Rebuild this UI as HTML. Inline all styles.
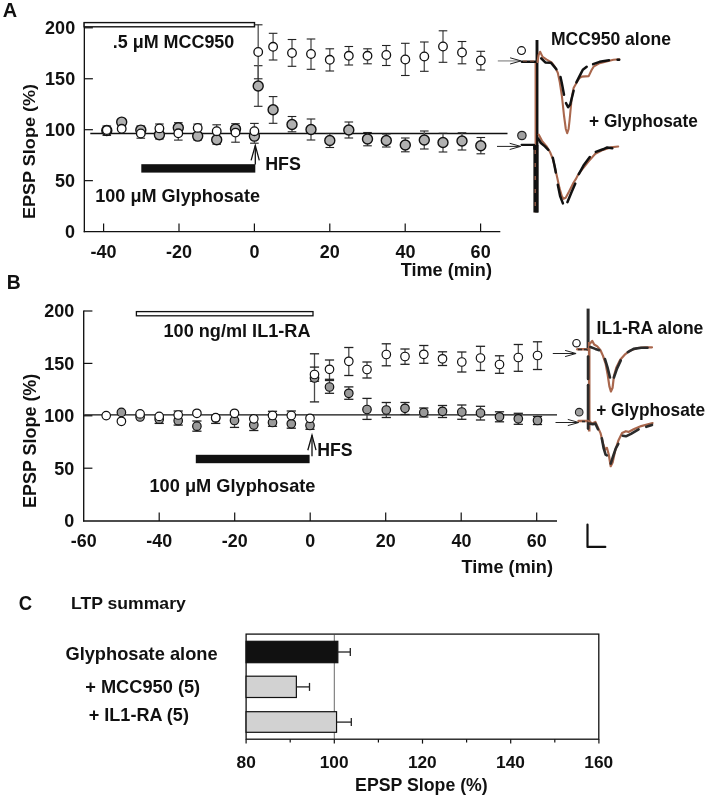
<!DOCTYPE html>
<html><head><meta charset="utf-8"><style>
html,body{margin:0;padding:0;background:#fff;}
svg{display:block;will-change:transform;font-family:"Liberation Sans", sans-serif;}
</style></head><body>
<svg width="708" height="798" viewBox="0 0 708 798">
<rect x="0" y="0" width="708" height="798" fill="#fff"/>
<text x="2.80" y="16.50" font-size="19.5" font-weight="bold" fill="#111" textLength="14.42" lengthAdjust="spacingAndGlyphs">A</text>
<line x1="84.35" y1="22.50" x2="84.35" y2="232.25" stroke="#111" stroke-width="1.35"/>
<line x1="83.70" y1="231.60" x2="500.30" y2="231.60" stroke="#111" stroke-width="1.35"/>
<text x="65.13" y="237.90" font-size="17.6" font-weight="bold" fill="#111" textLength="10.01" lengthAdjust="spacingAndGlyphs">0</text>
<line x1="84.30" y1="180.65" x2="92.90" y2="180.65" stroke="#111" stroke-width="1.2"/>
<text x="55.12" y="186.95" font-size="17.6" font-weight="bold" fill="#111" textLength="20.02" lengthAdjust="spacingAndGlyphs">50</text>
<line x1="84.30" y1="129.70" x2="92.90" y2="129.70" stroke="#111" stroke-width="1.2"/>
<text x="45.11" y="136.00" font-size="17.6" font-weight="bold" fill="#111" textLength="30.03" lengthAdjust="spacingAndGlyphs">100</text>
<line x1="84.30" y1="78.75" x2="92.90" y2="78.75" stroke="#111" stroke-width="1.2"/>
<text x="45.11" y="85.05" font-size="17.6" font-weight="bold" fill="#111" textLength="30.03" lengthAdjust="spacingAndGlyphs">150</text>
<line x1="84.30" y1="27.80" x2="92.90" y2="27.80" stroke="#111" stroke-width="1.2"/>
<text x="45.11" y="34.10" font-size="17.6" font-weight="bold" fill="#111" textLength="30.03" lengthAdjust="spacingAndGlyphs">200</text>
<line x1="103.60" y1="223.40" x2="103.60" y2="231.60" stroke="#111" stroke-width="1.2"/>
<text x="90.61" y="257.90" font-size="17.6" font-weight="bold" fill="#111" textLength="26.02" lengthAdjust="spacingAndGlyphs">-40</text>
<line x1="179.00" y1="223.40" x2="179.00" y2="231.60" stroke="#111" stroke-width="1.2"/>
<text x="166.01" y="257.90" font-size="17.6" font-weight="bold" fill="#111" textLength="26.02" lengthAdjust="spacingAndGlyphs">-20</text>
<line x1="254.40" y1="223.40" x2="254.40" y2="231.60" stroke="#111" stroke-width="1.2"/>
<text x="249.41" y="257.90" font-size="17.6" font-weight="bold" fill="#111" textLength="10.01" lengthAdjust="spacingAndGlyphs">0</text>
<line x1="329.80" y1="223.40" x2="329.80" y2="231.60" stroke="#111" stroke-width="1.2"/>
<text x="319.85" y="257.90" font-size="17.6" font-weight="bold" fill="#111" textLength="20.02" lengthAdjust="spacingAndGlyphs">20</text>
<line x1="405.20" y1="223.40" x2="405.20" y2="231.60" stroke="#111" stroke-width="1.2"/>
<text x="395.42" y="257.90" font-size="17.6" font-weight="bold" fill="#111" textLength="20.02" lengthAdjust="spacingAndGlyphs">40</text>
<line x1="480.60" y1="223.40" x2="480.60" y2="231.60" stroke="#111" stroke-width="1.2"/>
<text x="470.63" y="257.90" font-size="17.6" font-weight="bold" fill="#111" textLength="20.02" lengthAdjust="spacingAndGlyphs">60</text>
<text x="400.70" y="275.55" font-size="17.68" font-weight="bold" fill="#111" textLength="91.30" lengthAdjust="spacingAndGlyphs">Time (min)</text>
<text transform="translate(34.75,219.11) rotate(-90)" x="0" y="0" font-size="17.26" font-weight="bold" fill="#111" textLength="135.20" lengthAdjust="spacingAndGlyphs">EPSP Slope (%)</text>
<rect x="84.10" y="22.60" width="170.40" height="4.20" fill="#fff" stroke="#111" stroke-width="1.4"/>
<text x="112.78" y="47.75" font-size="17.47" font-weight="bold" fill="#111" textLength="121.55" lengthAdjust="spacingAndGlyphs">.5 μM MCC950</text>
<rect x="141.30" y="164.20" width="114.00" height="8.40" fill="#111"/>
<text x="95.26" y="201.95" font-size="17.47" font-weight="bold" fill="#111" textLength="164.76" lengthAdjust="spacingAndGlyphs">100 μM Glyphosate</text>
<line x1="255.30" y1="145.40" x2="255.30" y2="164.50" stroke="#111" stroke-width="1.3"/>
<path d="M251.1,160.4 L255.3,145.4 L259.3,160.4" fill="none" stroke="#111" stroke-width="1.3"/>
<text x="265.21" y="170.35" font-size="17.68" font-weight="bold" fill="#111" textLength="35.69" lengthAdjust="spacingAndGlyphs">HFS</text>
<line x1="90.30" y1="133.40" x2="507.50" y2="133.40" stroke="#111" stroke-width="1.45"/>
<line x1="106.80" y1="126.00" x2="106.80" y2="135.40" stroke="#5c5c5c" stroke-width="1.4"/>
<line x1="102.50" y1="126.00" x2="111.10" y2="126.00" stroke="#222" stroke-width="1.1"/>
<line x1="102.50" y1="135.40" x2="111.10" y2="135.40" stroke="#222" stroke-width="1.1"/>
<line x1="140.80" y1="126.00" x2="140.80" y2="138.20" stroke="#5c5c5c" stroke-width="1.4"/>
<line x1="136.50" y1="126.00" x2="145.10" y2="126.00" stroke="#222" stroke-width="1.1"/>
<line x1="136.50" y1="138.20" x2="145.10" y2="138.20" stroke="#222" stroke-width="1.1"/>
<line x1="159.40" y1="124.00" x2="159.40" y2="139.00" stroke="#5c5c5c" stroke-width="1.4"/>
<line x1="155.10" y1="124.00" x2="163.70" y2="124.00" stroke="#222" stroke-width="1.1"/>
<line x1="155.10" y1="139.00" x2="163.70" y2="139.00" stroke="#222" stroke-width="1.1"/>
<line x1="178.30" y1="122.70" x2="178.30" y2="140.10" stroke="#5c5c5c" stroke-width="1.4"/>
<line x1="174.00" y1="122.70" x2="182.60" y2="122.70" stroke="#222" stroke-width="1.1"/>
<line x1="174.00" y1="140.10" x2="182.60" y2="140.10" stroke="#222" stroke-width="1.1"/>
<line x1="197.70" y1="124.10" x2="197.70" y2="139.90" stroke="#5c5c5c" stroke-width="1.4"/>
<line x1="193.40" y1="124.10" x2="202.00" y2="124.10" stroke="#222" stroke-width="1.1"/>
<line x1="193.40" y1="139.90" x2="202.00" y2="139.90" stroke="#222" stroke-width="1.1"/>
<line x1="216.70" y1="124.80" x2="216.70" y2="144.20" stroke="#5c5c5c" stroke-width="1.4"/>
<line x1="212.40" y1="124.80" x2="221.00" y2="124.80" stroke="#222" stroke-width="1.1"/>
<line x1="212.40" y1="144.20" x2="221.00" y2="144.20" stroke="#222" stroke-width="1.1"/>
<line x1="235.50" y1="123.70" x2="235.50" y2="142.20" stroke="#5c5c5c" stroke-width="1.4"/>
<line x1="231.20" y1="123.70" x2="239.80" y2="123.70" stroke="#222" stroke-width="1.1"/>
<line x1="231.20" y1="142.20" x2="239.80" y2="142.20" stroke="#222" stroke-width="1.1"/>
<line x1="254.40" y1="123.40" x2="254.40" y2="143.20" stroke="#5c5c5c" stroke-width="1.4"/>
<line x1="250.10" y1="123.40" x2="258.70" y2="123.40" stroke="#222" stroke-width="1.1"/>
<line x1="250.10" y1="143.20" x2="258.70" y2="143.20" stroke="#222" stroke-width="1.1"/>
<line x1="258.20" y1="65.70" x2="258.20" y2="106.30" stroke="#5c5c5c" stroke-width="1.4"/>
<line x1="253.90" y1="65.70" x2="262.50" y2="65.70" stroke="#222" stroke-width="1.1"/>
<line x1="253.90" y1="106.30" x2="262.50" y2="106.30" stroke="#222" stroke-width="1.1"/>
<line x1="258.20" y1="24.80" x2="258.20" y2="78.80" stroke="#5c5c5c" stroke-width="1.4"/>
<line x1="253.90" y1="24.80" x2="262.50" y2="24.80" stroke="#222" stroke-width="1.1"/>
<line x1="253.90" y1="78.80" x2="262.50" y2="78.80" stroke="#222" stroke-width="1.1"/>
<line x1="273.10" y1="96.60" x2="273.10" y2="123.30" stroke="#5c5c5c" stroke-width="1.4"/>
<line x1="268.80" y1="96.60" x2="277.40" y2="96.60" stroke="#222" stroke-width="1.1"/>
<line x1="268.80" y1="123.30" x2="277.40" y2="123.30" stroke="#222" stroke-width="1.1"/>
<line x1="273.10" y1="33.30" x2="273.10" y2="60.00" stroke="#5c5c5c" stroke-width="1.4"/>
<line x1="268.80" y1="33.30" x2="277.40" y2="33.30" stroke="#222" stroke-width="1.1"/>
<line x1="268.80" y1="60.00" x2="277.40" y2="60.00" stroke="#222" stroke-width="1.1"/>
<line x1="292.00" y1="116.50" x2="292.00" y2="131.80" stroke="#5c5c5c" stroke-width="1.4"/>
<line x1="287.70" y1="116.50" x2="296.30" y2="116.50" stroke="#222" stroke-width="1.1"/>
<line x1="287.70" y1="131.80" x2="296.30" y2="131.80" stroke="#222" stroke-width="1.1"/>
<line x1="292.00" y1="39.50" x2="292.00" y2="66.30" stroke="#5c5c5c" stroke-width="1.4"/>
<line x1="287.70" y1="39.50" x2="296.30" y2="39.50" stroke="#222" stroke-width="1.1"/>
<line x1="287.70" y1="66.30" x2="296.30" y2="66.30" stroke="#222" stroke-width="1.1"/>
<line x1="311.00" y1="119.00" x2="311.00" y2="140.00" stroke="#5c5c5c" stroke-width="1.4"/>
<line x1="306.70" y1="119.00" x2="315.30" y2="119.00" stroke="#222" stroke-width="1.1"/>
<line x1="306.70" y1="140.00" x2="315.30" y2="140.00" stroke="#222" stroke-width="1.1"/>
<line x1="311.00" y1="39.00" x2="311.00" y2="69.30" stroke="#5c5c5c" stroke-width="1.4"/>
<line x1="306.70" y1="39.00" x2="315.30" y2="39.00" stroke="#222" stroke-width="1.1"/>
<line x1="306.70" y1="69.30" x2="315.30" y2="69.30" stroke="#222" stroke-width="1.1"/>
<line x1="329.80" y1="133.50" x2="329.80" y2="147.50" stroke="#5c5c5c" stroke-width="1.4"/>
<line x1="325.50" y1="133.50" x2="334.10" y2="133.50" stroke="#222" stroke-width="1.1"/>
<line x1="325.50" y1="147.50" x2="334.10" y2="147.50" stroke="#222" stroke-width="1.1"/>
<line x1="329.80" y1="48.80" x2="329.80" y2="71.00" stroke="#5c5c5c" stroke-width="1.4"/>
<line x1="325.50" y1="48.80" x2="334.10" y2="48.80" stroke="#222" stroke-width="1.1"/>
<line x1="325.50" y1="71.00" x2="334.10" y2="71.00" stroke="#222" stroke-width="1.1"/>
<line x1="348.80" y1="122.00" x2="348.80" y2="138.00" stroke="#5c5c5c" stroke-width="1.4"/>
<line x1="344.50" y1="122.00" x2="353.10" y2="122.00" stroke="#222" stroke-width="1.1"/>
<line x1="344.50" y1="138.00" x2="353.10" y2="138.00" stroke="#222" stroke-width="1.1"/>
<line x1="348.80" y1="46.50" x2="348.80" y2="65.00" stroke="#5c5c5c" stroke-width="1.4"/>
<line x1="344.50" y1="46.50" x2="353.10" y2="46.50" stroke="#222" stroke-width="1.1"/>
<line x1="344.50" y1="65.00" x2="353.10" y2="65.00" stroke="#222" stroke-width="1.1"/>
<line x1="367.50" y1="132.50" x2="367.50" y2="145.80" stroke="#5c5c5c" stroke-width="1.4"/>
<line x1="363.20" y1="132.50" x2="371.80" y2="132.50" stroke="#222" stroke-width="1.1"/>
<line x1="363.20" y1="145.80" x2="371.80" y2="145.80" stroke="#222" stroke-width="1.1"/>
<line x1="367.50" y1="48.80" x2="367.50" y2="63.80" stroke="#5c5c5c" stroke-width="1.4"/>
<line x1="363.20" y1="48.80" x2="371.80" y2="48.80" stroke="#222" stroke-width="1.1"/>
<line x1="363.20" y1="63.80" x2="371.80" y2="63.80" stroke="#222" stroke-width="1.1"/>
<line x1="386.30" y1="134.00" x2="386.30" y2="147.00" stroke="#5c5c5c" stroke-width="1.4"/>
<line x1="382.00" y1="134.00" x2="390.60" y2="134.00" stroke="#222" stroke-width="1.1"/>
<line x1="382.00" y1="147.00" x2="390.60" y2="147.00" stroke="#222" stroke-width="1.1"/>
<line x1="386.30" y1="45.50" x2="386.30" y2="65.50" stroke="#5c5c5c" stroke-width="1.4"/>
<line x1="382.00" y1="45.50" x2="390.60" y2="45.50" stroke="#222" stroke-width="1.1"/>
<line x1="382.00" y1="65.50" x2="390.60" y2="65.50" stroke="#222" stroke-width="1.1"/>
<line x1="405.30" y1="138.00" x2="405.30" y2="151.80" stroke="#5c5c5c" stroke-width="1.4"/>
<line x1="401.00" y1="138.00" x2="409.60" y2="138.00" stroke="#222" stroke-width="1.1"/>
<line x1="401.00" y1="151.80" x2="409.60" y2="151.80" stroke="#222" stroke-width="1.1"/>
<line x1="405.30" y1="43.30" x2="405.30" y2="75.50" stroke="#5c5c5c" stroke-width="1.4"/>
<line x1="401.00" y1="43.30" x2="409.60" y2="43.30" stroke="#222" stroke-width="1.1"/>
<line x1="401.00" y1="75.50" x2="409.60" y2="75.50" stroke="#222" stroke-width="1.1"/>
<line x1="424.30" y1="131.00" x2="424.30" y2="149.00" stroke="#5c5c5c" stroke-width="1.4"/>
<line x1="420.00" y1="131.00" x2="428.60" y2="131.00" stroke="#222" stroke-width="1.1"/>
<line x1="420.00" y1="149.00" x2="428.60" y2="149.00" stroke="#222" stroke-width="1.1"/>
<line x1="424.30" y1="42.00" x2="424.30" y2="71.30" stroke="#5c5c5c" stroke-width="1.4"/>
<line x1="420.00" y1="42.00" x2="428.60" y2="42.00" stroke="#222" stroke-width="1.1"/>
<line x1="420.00" y1="71.30" x2="428.60" y2="71.30" stroke="#222" stroke-width="1.1"/>
<line x1="443.00" y1="133.30" x2="443.00" y2="152.00" stroke="#5c5c5c" stroke-width="1.4"/>
<line x1="438.70" y1="133.30" x2="447.30" y2="133.30" stroke="#222" stroke-width="1.1"/>
<line x1="438.70" y1="152.00" x2="447.30" y2="152.00" stroke="#222" stroke-width="1.1"/>
<line x1="443.00" y1="30.80" x2="443.00" y2="62.30" stroke="#5c5c5c" stroke-width="1.4"/>
<line x1="438.70" y1="30.80" x2="447.30" y2="30.80" stroke="#222" stroke-width="1.1"/>
<line x1="438.70" y1="62.30" x2="447.30" y2="62.30" stroke="#222" stroke-width="1.1"/>
<line x1="462.00" y1="132.80" x2="462.00" y2="150.00" stroke="#5c5c5c" stroke-width="1.4"/>
<line x1="457.70" y1="132.80" x2="466.30" y2="132.80" stroke="#222" stroke-width="1.1"/>
<line x1="457.70" y1="150.00" x2="466.30" y2="150.00" stroke="#222" stroke-width="1.1"/>
<line x1="462.00" y1="41.50" x2="462.00" y2="63.80" stroke="#5c5c5c" stroke-width="1.4"/>
<line x1="457.70" y1="41.50" x2="466.30" y2="41.50" stroke="#222" stroke-width="1.1"/>
<line x1="457.70" y1="63.80" x2="466.30" y2="63.80" stroke="#222" stroke-width="1.1"/>
<line x1="480.80" y1="137.50" x2="480.80" y2="153.80" stroke="#5c5c5c" stroke-width="1.4"/>
<line x1="476.50" y1="137.50" x2="485.10" y2="137.50" stroke="#222" stroke-width="1.1"/>
<line x1="476.50" y1="153.80" x2="485.10" y2="153.80" stroke="#222" stroke-width="1.1"/>
<line x1="480.80" y1="51.30" x2="480.80" y2="70.00" stroke="#5c5c5c" stroke-width="1.4"/>
<line x1="476.50" y1="51.30" x2="485.10" y2="51.30" stroke="#222" stroke-width="1.1"/>
<line x1="476.50" y1="70.00" x2="485.10" y2="70.00" stroke="#222" stroke-width="1.1"/>
<circle cx="106.80" cy="130.50" r="5.00" fill="#b0b0b0" stroke="#111" stroke-width="1.4"/>
<circle cx="106.80" cy="130.10" r="4.30" fill="#fff" stroke="#111" stroke-width="1.3"/>
<circle cx="121.70" cy="122.10" r="5.00" fill="#b0b0b0" stroke="#111" stroke-width="1.4"/>
<circle cx="121.70" cy="128.80" r="4.30" fill="#fff" stroke="#111" stroke-width="1.3"/>
<circle cx="140.80" cy="130.10" r="5.00" fill="#b0b0b0" stroke="#111" stroke-width="1.4"/>
<circle cx="140.80" cy="133.50" r="4.30" fill="#fff" stroke="#111" stroke-width="1.3"/>
<circle cx="159.40" cy="134.80" r="5.00" fill="#b0b0b0" stroke="#111" stroke-width="1.4"/>
<circle cx="159.40" cy="128.40" r="4.30" fill="#fff" stroke="#111" stroke-width="1.3"/>
<circle cx="178.30" cy="127.70" r="5.00" fill="#b0b0b0" stroke="#111" stroke-width="1.4"/>
<circle cx="178.30" cy="133.30" r="4.30" fill="#fff" stroke="#111" stroke-width="1.3"/>
<circle cx="197.70" cy="136.10" r="5.00" fill="#b0b0b0" stroke="#111" stroke-width="1.4"/>
<circle cx="197.70" cy="127.90" r="4.30" fill="#fff" stroke="#111" stroke-width="1.3"/>
<circle cx="216.70" cy="139.70" r="5.00" fill="#b0b0b0" stroke="#111" stroke-width="1.4"/>
<circle cx="216.70" cy="131.20" r="4.30" fill="#fff" stroke="#111" stroke-width="1.3"/>
<circle cx="235.50" cy="129.10" r="5.00" fill="#b0b0b0" stroke="#111" stroke-width="1.4"/>
<circle cx="235.50" cy="132.60" r="4.30" fill="#fff" stroke="#111" stroke-width="1.3"/>
<circle cx="254.40" cy="136.10" r="5.00" fill="#b0b0b0" stroke="#111" stroke-width="1.4"/>
<circle cx="254.40" cy="131.20" r="4.30" fill="#fff" stroke="#111" stroke-width="1.3"/>
<circle cx="258.20" cy="86.00" r="5.00" fill="#b0b0b0" stroke="#111" stroke-width="1.4"/>
<circle cx="258.20" cy="52.00" r="4.30" fill="#fff" stroke="#111" stroke-width="1.3"/>
<circle cx="273.10" cy="109.80" r="5.00" fill="#b0b0b0" stroke="#111" stroke-width="1.4"/>
<circle cx="273.10" cy="46.80" r="4.30" fill="#fff" stroke="#111" stroke-width="1.3"/>
<circle cx="292.00" cy="124.50" r="5.00" fill="#b0b0b0" stroke="#111" stroke-width="1.4"/>
<circle cx="292.00" cy="53.00" r="4.30" fill="#fff" stroke="#111" stroke-width="1.3"/>
<circle cx="311.00" cy="129.50" r="5.00" fill="#b0b0b0" stroke="#111" stroke-width="1.4"/>
<circle cx="311.00" cy="54.00" r="4.30" fill="#fff" stroke="#111" stroke-width="1.3"/>
<circle cx="329.80" cy="140.50" r="5.00" fill="#b0b0b0" stroke="#111" stroke-width="1.4"/>
<circle cx="329.80" cy="59.80" r="4.30" fill="#fff" stroke="#111" stroke-width="1.3"/>
<circle cx="348.80" cy="130.00" r="5.00" fill="#b0b0b0" stroke="#111" stroke-width="1.4"/>
<circle cx="348.80" cy="55.80" r="4.30" fill="#fff" stroke="#111" stroke-width="1.3"/>
<circle cx="367.50" cy="139.00" r="5.00" fill="#b0b0b0" stroke="#111" stroke-width="1.4"/>
<circle cx="367.50" cy="55.80" r="4.30" fill="#fff" stroke="#111" stroke-width="1.3"/>
<circle cx="386.30" cy="140.50" r="5.00" fill="#b0b0b0" stroke="#111" stroke-width="1.4"/>
<circle cx="386.30" cy="55.00" r="4.30" fill="#fff" stroke="#111" stroke-width="1.3"/>
<circle cx="405.30" cy="145.00" r="5.00" fill="#b0b0b0" stroke="#111" stroke-width="1.4"/>
<circle cx="405.30" cy="59.50" r="4.30" fill="#fff" stroke="#111" stroke-width="1.3"/>
<circle cx="424.30" cy="140.00" r="5.00" fill="#b0b0b0" stroke="#111" stroke-width="1.4"/>
<circle cx="424.30" cy="56.50" r="4.30" fill="#fff" stroke="#111" stroke-width="1.3"/>
<circle cx="443.00" cy="142.50" r="5.00" fill="#b0b0b0" stroke="#111" stroke-width="1.4"/>
<circle cx="443.00" cy="46.50" r="4.30" fill="#fff" stroke="#111" stroke-width="1.3"/>
<circle cx="462.00" cy="141.00" r="5.00" fill="#b0b0b0" stroke="#111" stroke-width="1.4"/>
<circle cx="462.00" cy="52.50" r="4.30" fill="#fff" stroke="#111" stroke-width="1.3"/>
<circle cx="480.80" cy="145.80" r="5.00" fill="#b0b0b0" stroke="#111" stroke-width="1.4"/>
<circle cx="480.80" cy="60.50" r="4.30" fill="#fff" stroke="#111" stroke-width="1.3"/>
<circle cx="521.50" cy="50.60" r="3.90" fill="#fff" stroke="#111" stroke-width="1.2"/>
<circle cx="521.90" cy="135.50" r="4.20" fill="#a0a0a0" stroke="#222" stroke-width="1.2"/>
<line x1="497.80" y1="60.90" x2="520.10" y2="60.90" stroke="#9a9a9a" stroke-width="1.4"/>
<path d="M510.1,57.8 L521.1,60.9 L510.1,64.0" fill="none" stroke="#222" stroke-width="1"/>
<line x1="497.00" y1="146.40" x2="519.70" y2="146.40" stroke="#222" stroke-width="1.0"/>
<path d="M509.7,143.3 L520.7,146.4 L509.7,149.5" fill="none" stroke="#222" stroke-width="1"/>
<line x1="537.00" y1="40.00" x2="537.00" y2="212.50" stroke="#111" stroke-width="2.9"/>
<line x1="535.30" y1="61.00" x2="535.30" y2="212.50" stroke="#a9674d" stroke-width="1.5"/>
<rect x="533.40" y="145.00" width="5.00" height="67.50" fill="#111"/>
<line x1="535.2" y1="150" x2="535.2" y2="211" stroke="#a9674d" stroke-width="1.2" stroke-dasharray="4,9"/>
<path d="M521.9,61.8 L535.7,61.8" fill="none" stroke="#111" stroke-width="2.4" stroke-linejoin="round" stroke-linecap="round"/>
<line x1="523" y1="61.0" x2="535" y2="61.0" stroke="#a9674d" stroke-width="0.9" stroke-dasharray="4,3"/>
<path d="M537.5,62.0 L538.6,55.0 L540.1,51.8 L542.6,56.9 L546.7,59.7 L551.6,62.4 L555.0,67.2 L557.8,72.8 L559.8,82.4 L561.9,96.2 L564.0,115.5 L565.8,129.0 L567.2,133.2 L568.6,129.0 L569.6,120.0 L571.6,99.0 L573.6,87.9 L577.1,81.7 L579.5,78.0 L581.8,76.6 L588.7,76.1 L591.6,70.0 L593.6,66.7 L599.6,63.2 L607.5,61.3 L613.4,59.8 L619.3,59.3" fill="none" stroke="#a9674d" stroke-width="2.1" stroke-linejoin="round" stroke-linecap="round"/>
<path d="M541.2,58.3 L545.3,62.4 L550.9,62.7 L553.6,65.9 L556.4,69.3" fill="none" stroke="#111" stroke-width="2.5" stroke-linejoin="round" stroke-linecap="round"/>
<path d="M560.5,76.9 L562.0,84.0 L564.0,94.8" fill="none" stroke="#111" stroke-width="2.5" stroke-linejoin="round" stroke-linecap="round"/>
<path d="M566.0,103.1 L568.1,107.2 L570.2,104.5 L573.6,90.7" fill="none" stroke="#111" stroke-width="2.5" stroke-linejoin="round" stroke-linecap="round"/>
<path d="M576.4,82.4 L579.8,75.6 L582.8,69.7 L586.7,66.7" fill="none" stroke="#111" stroke-width="2.5" stroke-linejoin="round" stroke-linecap="round"/>
<path d="M593.1,64.2 L599.6,61.8 L609.0,60.3" fill="none" stroke="#111" stroke-width="2.5" stroke-linejoin="round" stroke-linecap="round"/>
<path d="M617.6,59.8 L619.2,59.8" fill="none" stroke="#111" stroke-width="2.5" stroke-linejoin="round" stroke-linecap="round"/>
<path d="M521.6,144.8 L534.2,144.8 L534.3,149.0" fill="none" stroke="#111" stroke-width="2.2" stroke-linejoin="round" stroke-linecap="round"/>
<path d="M538.7,134.6 L542.0,140.8 L546.6,146.4 L550.0,152.0 L552.8,158.8 L555.0,167.8 L557.3,178.0 L559.5,188.1 L561.8,196.0 L563.5,198.8 L565.7,197.7 L569.1,191.5 L573.6,182.5 L575.8,179.2 L578.1,174.6 L581.8,169.8 L588.6,161.4 L595.3,153.7 L603.0,149.9 L610.6,147.4 L618.2,146.5" fill="none" stroke="#a9674d" stroke-width="2.1" stroke-linejoin="round" stroke-linecap="round"/>
<path d="M538.1,138.5 L540.9,143.0 L544.9,146.4 L548.3,149.8" fill="none" stroke="#111" stroke-width="2.5" stroke-linejoin="round" stroke-linecap="round"/>
<path d="M552.8,157.7 L554.5,165.6 L555.8,172.4" fill="none" stroke="#111" stroke-width="2.5" stroke-linejoin="round" stroke-linecap="round"/>
<path d="M557.8,184.8 L560.1,196.0 L562.9,203.4" fill="none" stroke="#111" stroke-width="2.5" stroke-linejoin="round" stroke-linecap="round"/>
<path d="M567.4,202.2 L571.4,192.6 L575.3,183.6" fill="none" stroke="#111" stroke-width="2.5" stroke-linejoin="round" stroke-linecap="round"/>
<path d="M578.8,174.1 L583.5,165.6 L589.8,157.0" fill="none" stroke="#111" stroke-width="2.5" stroke-linejoin="round" stroke-linecap="round"/>
<path d="M595.8,151.9 L603.0,149.3 L607.2,147.4 L612.3,148.2" fill="none" stroke="#111" stroke-width="2.5" stroke-linejoin="round" stroke-linecap="round"/>
<text x="550.92" y="45.35" font-size="17.47" font-weight="bold" fill="#111" textLength="120.08" lengthAdjust="spacingAndGlyphs">MCC950 alone</text>
<text x="589.08" y="126.95" font-size="17.47" font-weight="bold" fill="#111" textLength="108.71" lengthAdjust="spacingAndGlyphs">+ Glyphosate</text>
<text x="6.81" y="289.10" font-size="19.5" font-weight="bold" fill="#111" textLength="13.97" lengthAdjust="spacingAndGlyphs">B</text>
<line x1="83.70" y1="310.40" x2="83.70" y2="521.60" stroke="#111" stroke-width="1.35"/>
<line x1="83.05" y1="520.95" x2="557.00" y2="520.95" stroke="#111" stroke-width="1.35"/>
<text x="64.23" y="526.90" font-size="17.6" font-weight="bold" fill="#111" textLength="10.01" lengthAdjust="spacingAndGlyphs">0</text>
<line x1="83.80" y1="468.20" x2="92.40" y2="468.20" stroke="#111" stroke-width="1.2"/>
<text x="54.22" y="474.50" font-size="17.6" font-weight="bold" fill="#111" textLength="20.02" lengthAdjust="spacingAndGlyphs">50</text>
<line x1="83.80" y1="415.80" x2="92.40" y2="415.80" stroke="#111" stroke-width="1.2"/>
<text x="44.21" y="422.10" font-size="17.6" font-weight="bold" fill="#111" textLength="30.03" lengthAdjust="spacingAndGlyphs">100</text>
<line x1="83.80" y1="363.40" x2="92.40" y2="363.40" stroke="#111" stroke-width="1.2"/>
<text x="44.21" y="369.70" font-size="17.6" font-weight="bold" fill="#111" textLength="30.03" lengthAdjust="spacingAndGlyphs">150</text>
<line x1="83.80" y1="311.00" x2="92.40" y2="311.00" stroke="#111" stroke-width="1.2"/>
<text x="44.21" y="317.30" font-size="17.6" font-weight="bold" fill="#111" textLength="30.03" lengthAdjust="spacingAndGlyphs">200</text>
<text x="70.78" y="546.80" font-size="17.6" font-weight="bold" fill="#111" textLength="25.87" lengthAdjust="spacingAndGlyphs">-60</text>
<line x1="159.20" y1="512.60" x2="159.20" y2="520.90" stroke="#111" stroke-width="1.2"/>
<text x="146.28" y="546.80" font-size="17.6" font-weight="bold" fill="#111" textLength="25.87" lengthAdjust="spacingAndGlyphs">-40</text>
<line x1="234.70" y1="512.60" x2="234.70" y2="520.90" stroke="#111" stroke-width="1.2"/>
<text x="221.78" y="546.80" font-size="17.6" font-weight="bold" fill="#111" textLength="25.87" lengthAdjust="spacingAndGlyphs">-20</text>
<line x1="310.20" y1="512.60" x2="310.20" y2="520.90" stroke="#111" stroke-width="1.2"/>
<text x="305.24" y="546.80" font-size="17.6" font-weight="bold" fill="#111" textLength="9.96" lengthAdjust="spacingAndGlyphs">0</text>
<line x1="385.70" y1="512.60" x2="385.70" y2="520.90" stroke="#111" stroke-width="1.2"/>
<text x="375.80" y="546.80" font-size="17.6" font-weight="bold" fill="#111" textLength="19.91" lengthAdjust="spacingAndGlyphs">20</text>
<line x1="461.20" y1="512.60" x2="461.20" y2="520.90" stroke="#111" stroke-width="1.2"/>
<text x="451.48" y="546.80" font-size="17.6" font-weight="bold" fill="#111" textLength="19.91" lengthAdjust="spacingAndGlyphs">40</text>
<line x1="536.70" y1="512.60" x2="536.70" y2="520.90" stroke="#111" stroke-width="1.2"/>
<text x="526.78" y="546.80" font-size="17.6" font-weight="bold" fill="#111" textLength="19.91" lengthAdjust="spacingAndGlyphs">60</text>
<text x="461.50" y="573.35" font-size="17.68" font-weight="bold" fill="#111" textLength="91.50" lengthAdjust="spacingAndGlyphs">Time (min)</text>
<text transform="translate(36.25,508.00) rotate(-90)" x="0" y="0" font-size="17.47" font-weight="bold" fill="#111" textLength="134.29" lengthAdjust="spacingAndGlyphs">EPSP Slope (%)</text>
<rect x="136.40" y="311.60" width="176.60" height="4.20" fill="#fff" stroke="#111" stroke-width="1.3"/>
<text x="163.56" y="336.85" font-size="17.47" font-weight="bold" fill="#111" textLength="146.92" lengthAdjust="spacingAndGlyphs">100 ng/ml IL1-RA</text>
<rect x="195.80" y="454.80" width="113.80" height="8.40" fill="#111"/>
<text x="149.45" y="492.35" font-size="17.47" font-weight="bold" fill="#111" textLength="166.07" lengthAdjust="spacingAndGlyphs">100 μM Glyphosate</text>
<line x1="312.00" y1="435.20" x2="312.00" y2="456.20" stroke="#111" stroke-width="1.3"/>
<path d="M307.8,450.2 L312.0,435.2 L316.0,450.2" fill="none" stroke="#111" stroke-width="1.3"/>
<text x="317.22" y="455.95" font-size="17.68" font-weight="bold" fill="#111" textLength="35.37" lengthAdjust="spacingAndGlyphs">HFS</text>
<line x1="84.20" y1="414.90" x2="557.00" y2="414.90" stroke="#111" stroke-width="1.4"/>
<line x1="159.20" y1="419.20" x2="159.20" y2="423.40" stroke="#4a4a4a" stroke-width="1.3"/>
<line x1="154.60" y1="423.40" x2="163.80" y2="423.40" stroke="#222" stroke-width="1.3"/>
<line x1="178.20" y1="411.00" x2="178.20" y2="420.70" stroke="#4a4a4a" stroke-width="1.3"/>
<line x1="173.60" y1="411.00" x2="182.80" y2="411.00" stroke="#222" stroke-width="1.3"/>
<line x1="178.20" y1="420.70" x2="178.20" y2="425.10" stroke="#4a4a4a" stroke-width="1.3"/>
<line x1="173.60" y1="425.10" x2="182.80" y2="425.10" stroke="#222" stroke-width="1.3"/>
<line x1="196.90" y1="421.00" x2="196.90" y2="426.20" stroke="#4a4a4a" stroke-width="1.3"/>
<line x1="192.30" y1="421.00" x2="201.50" y2="421.00" stroke="#222" stroke-width="1.3"/>
<line x1="196.90" y1="426.20" x2="196.90" y2="431.20" stroke="#4a4a4a" stroke-width="1.3"/>
<line x1="192.30" y1="431.20" x2="201.50" y2="431.20" stroke="#222" stroke-width="1.3"/>
<line x1="215.70" y1="418.00" x2="215.70" y2="423.40" stroke="#4a4a4a" stroke-width="1.3"/>
<line x1="211.10" y1="423.40" x2="220.30" y2="423.40" stroke="#222" stroke-width="1.3"/>
<line x1="234.50" y1="420.50" x2="234.50" y2="427.40" stroke="#4a4a4a" stroke-width="1.3"/>
<line x1="229.90" y1="427.40" x2="239.10" y2="427.40" stroke="#222" stroke-width="1.3"/>
<line x1="253.80" y1="425.00" x2="253.80" y2="430.50" stroke="#4a4a4a" stroke-width="1.3"/>
<line x1="249.20" y1="430.50" x2="258.40" y2="430.50" stroke="#222" stroke-width="1.3"/>
<line x1="272.50" y1="411.30" x2="272.50" y2="422.50" stroke="#4a4a4a" stroke-width="1.3"/>
<line x1="267.90" y1="411.30" x2="277.10" y2="411.30" stroke="#222" stroke-width="1.3"/>
<line x1="272.50" y1="422.50" x2="272.50" y2="426.30" stroke="#4a4a4a" stroke-width="1.3"/>
<line x1="267.90" y1="426.30" x2="277.10" y2="426.30" stroke="#222" stroke-width="1.3"/>
<line x1="291.30" y1="411.00" x2="291.30" y2="423.80" stroke="#4a4a4a" stroke-width="1.3"/>
<line x1="286.70" y1="411.00" x2="295.90" y2="411.00" stroke="#222" stroke-width="1.3"/>
<line x1="291.30" y1="423.80" x2="291.30" y2="428.20" stroke="#4a4a4a" stroke-width="1.3"/>
<line x1="286.70" y1="428.20" x2="295.90" y2="428.20" stroke="#222" stroke-width="1.3"/>
<line x1="310.00" y1="425.50" x2="310.00" y2="429.30" stroke="#4a4a4a" stroke-width="1.3"/>
<line x1="305.40" y1="429.30" x2="314.60" y2="429.30" stroke="#222" stroke-width="1.3"/>
<line x1="314.50" y1="353.80" x2="314.50" y2="378.00" stroke="#4a4a4a" stroke-width="1.3"/>
<line x1="309.90" y1="353.80" x2="319.10" y2="353.80" stroke="#222" stroke-width="1.3"/>
<line x1="314.50" y1="378.00" x2="314.50" y2="401.90" stroke="#4a4a4a" stroke-width="1.3"/>
<line x1="309.90" y1="401.90" x2="319.10" y2="401.90" stroke="#222" stroke-width="1.3"/>
<line x1="314.50" y1="367.10" x2="314.50" y2="374.50" stroke="#4a4a4a" stroke-width="1.3"/>
<line x1="309.90" y1="367.10" x2="319.10" y2="367.10" stroke="#222" stroke-width="1.3"/>
<line x1="314.50" y1="374.50" x2="314.50" y2="381.20" stroke="#4a4a4a" stroke-width="1.3"/>
<line x1="309.90" y1="381.20" x2="319.10" y2="381.20" stroke="#222" stroke-width="1.3"/>
<line x1="329.50" y1="380.50" x2="329.50" y2="387.00" stroke="#4a4a4a" stroke-width="1.3"/>
<line x1="324.90" y1="380.50" x2="334.10" y2="380.50" stroke="#222" stroke-width="1.3"/>
<line x1="329.50" y1="387.00" x2="329.50" y2="393.30" stroke="#4a4a4a" stroke-width="1.3"/>
<line x1="324.90" y1="393.30" x2="334.10" y2="393.30" stroke="#222" stroke-width="1.3"/>
<line x1="329.50" y1="360.00" x2="329.50" y2="369.30" stroke="#4a4a4a" stroke-width="1.3"/>
<line x1="324.90" y1="360.00" x2="334.10" y2="360.00" stroke="#222" stroke-width="1.3"/>
<line x1="329.50" y1="369.30" x2="329.50" y2="379.30" stroke="#4a4a4a" stroke-width="1.3"/>
<line x1="324.90" y1="379.30" x2="334.10" y2="379.30" stroke="#222" stroke-width="1.3"/>
<line x1="348.80" y1="386.90" x2="348.80" y2="393.30" stroke="#4a4a4a" stroke-width="1.3"/>
<line x1="344.20" y1="386.90" x2="353.40" y2="386.90" stroke="#222" stroke-width="1.3"/>
<line x1="348.80" y1="393.30" x2="348.80" y2="399.30" stroke="#4a4a4a" stroke-width="1.3"/>
<line x1="344.20" y1="399.30" x2="353.40" y2="399.30" stroke="#222" stroke-width="1.3"/>
<line x1="348.80" y1="347.50" x2="348.80" y2="361.30" stroke="#4a4a4a" stroke-width="1.3"/>
<line x1="344.20" y1="347.50" x2="353.40" y2="347.50" stroke="#222" stroke-width="1.3"/>
<line x1="348.80" y1="361.30" x2="348.80" y2="375.50" stroke="#4a4a4a" stroke-width="1.3"/>
<line x1="344.20" y1="375.50" x2="353.40" y2="375.50" stroke="#222" stroke-width="1.3"/>
<line x1="367.00" y1="398.40" x2="367.00" y2="409.50" stroke="#4a4a4a" stroke-width="1.3"/>
<line x1="362.40" y1="398.40" x2="371.60" y2="398.40" stroke="#222" stroke-width="1.3"/>
<line x1="367.00" y1="409.50" x2="367.00" y2="419.40" stroke="#4a4a4a" stroke-width="1.3"/>
<line x1="362.40" y1="419.40" x2="371.60" y2="419.40" stroke="#222" stroke-width="1.3"/>
<line x1="367.00" y1="362.00" x2="367.00" y2="369.50" stroke="#4a4a4a" stroke-width="1.3"/>
<line x1="362.40" y1="362.00" x2="371.60" y2="362.00" stroke="#222" stroke-width="1.3"/>
<line x1="367.00" y1="369.50" x2="367.00" y2="378.00" stroke="#4a4a4a" stroke-width="1.3"/>
<line x1="362.40" y1="378.00" x2="371.60" y2="378.00" stroke="#222" stroke-width="1.3"/>
<line x1="386.30" y1="402.50" x2="386.30" y2="410.00" stroke="#4a4a4a" stroke-width="1.3"/>
<line x1="381.70" y1="402.50" x2="390.90" y2="402.50" stroke="#222" stroke-width="1.3"/>
<line x1="386.30" y1="410.00" x2="386.30" y2="417.50" stroke="#4a4a4a" stroke-width="1.3"/>
<line x1="381.70" y1="417.50" x2="390.90" y2="417.50" stroke="#222" stroke-width="1.3"/>
<line x1="386.30" y1="343.80" x2="386.30" y2="354.50" stroke="#4a4a4a" stroke-width="1.3"/>
<line x1="381.70" y1="343.80" x2="390.90" y2="343.80" stroke="#222" stroke-width="1.3"/>
<line x1="386.30" y1="354.50" x2="386.30" y2="365.80" stroke="#4a4a4a" stroke-width="1.3"/>
<line x1="381.70" y1="365.80" x2="390.90" y2="365.80" stroke="#222" stroke-width="1.3"/>
<line x1="405.00" y1="402.50" x2="405.00" y2="408.30" stroke="#4a4a4a" stroke-width="1.3"/>
<line x1="400.40" y1="402.50" x2="409.60" y2="402.50" stroke="#222" stroke-width="1.3"/>
<line x1="405.00" y1="408.30" x2="405.00" y2="414.50" stroke="#4a4a4a" stroke-width="1.3"/>
<line x1="400.40" y1="414.50" x2="409.60" y2="414.50" stroke="#222" stroke-width="1.3"/>
<line x1="405.00" y1="349.00" x2="405.00" y2="356.50" stroke="#4a4a4a" stroke-width="1.3"/>
<line x1="400.40" y1="349.00" x2="409.60" y2="349.00" stroke="#222" stroke-width="1.3"/>
<line x1="405.00" y1="356.50" x2="405.00" y2="364.30" stroke="#4a4a4a" stroke-width="1.3"/>
<line x1="400.40" y1="364.30" x2="409.60" y2="364.30" stroke="#222" stroke-width="1.3"/>
<line x1="423.80" y1="408.00" x2="423.80" y2="412.50" stroke="#4a4a4a" stroke-width="1.3"/>
<line x1="419.20" y1="408.00" x2="428.40" y2="408.00" stroke="#222" stroke-width="1.3"/>
<line x1="423.80" y1="412.50" x2="423.80" y2="417.00" stroke="#4a4a4a" stroke-width="1.3"/>
<line x1="419.20" y1="417.00" x2="428.40" y2="417.00" stroke="#222" stroke-width="1.3"/>
<line x1="423.80" y1="345.50" x2="423.80" y2="354.30" stroke="#4a4a4a" stroke-width="1.3"/>
<line x1="419.20" y1="345.50" x2="428.40" y2="345.50" stroke="#222" stroke-width="1.3"/>
<line x1="423.80" y1="354.30" x2="423.80" y2="363.30" stroke="#4a4a4a" stroke-width="1.3"/>
<line x1="419.20" y1="363.30" x2="428.40" y2="363.30" stroke="#222" stroke-width="1.3"/>
<line x1="442.50" y1="405.50" x2="442.50" y2="411.30" stroke="#4a4a4a" stroke-width="1.3"/>
<line x1="437.90" y1="405.50" x2="447.10" y2="405.50" stroke="#222" stroke-width="1.3"/>
<line x1="442.50" y1="411.30" x2="442.50" y2="417.50" stroke="#4a4a4a" stroke-width="1.3"/>
<line x1="437.90" y1="417.50" x2="447.10" y2="417.50" stroke="#222" stroke-width="1.3"/>
<line x1="442.50" y1="351.80" x2="442.50" y2="358.80" stroke="#4a4a4a" stroke-width="1.3"/>
<line x1="437.90" y1="351.80" x2="447.10" y2="351.80" stroke="#222" stroke-width="1.3"/>
<line x1="442.50" y1="358.80" x2="442.50" y2="365.50" stroke="#4a4a4a" stroke-width="1.3"/>
<line x1="437.90" y1="365.50" x2="447.10" y2="365.50" stroke="#222" stroke-width="1.3"/>
<line x1="461.80" y1="405.00" x2="461.80" y2="412.00" stroke="#4a4a4a" stroke-width="1.3"/>
<line x1="457.20" y1="405.00" x2="466.40" y2="405.00" stroke="#222" stroke-width="1.3"/>
<line x1="461.80" y1="412.00" x2="461.80" y2="419.30" stroke="#4a4a4a" stroke-width="1.3"/>
<line x1="457.20" y1="419.30" x2="466.40" y2="419.30" stroke="#222" stroke-width="1.3"/>
<line x1="461.80" y1="352.00" x2="461.80" y2="362.00" stroke="#4a4a4a" stroke-width="1.3"/>
<line x1="457.20" y1="352.00" x2="466.40" y2="352.00" stroke="#222" stroke-width="1.3"/>
<line x1="461.80" y1="362.00" x2="461.80" y2="372.00" stroke="#4a4a4a" stroke-width="1.3"/>
<line x1="457.20" y1="372.00" x2="466.40" y2="372.00" stroke="#222" stroke-width="1.3"/>
<line x1="480.50" y1="406.30" x2="480.50" y2="413.00" stroke="#4a4a4a" stroke-width="1.3"/>
<line x1="475.90" y1="406.30" x2="485.10" y2="406.30" stroke="#222" stroke-width="1.3"/>
<line x1="480.50" y1="413.00" x2="480.50" y2="420.00" stroke="#4a4a4a" stroke-width="1.3"/>
<line x1="475.90" y1="420.00" x2="485.10" y2="420.00" stroke="#222" stroke-width="1.3"/>
<line x1="480.50" y1="346.30" x2="480.50" y2="358.00" stroke="#4a4a4a" stroke-width="1.3"/>
<line x1="475.90" y1="346.30" x2="485.10" y2="346.30" stroke="#222" stroke-width="1.3"/>
<line x1="480.50" y1="358.00" x2="480.50" y2="370.50" stroke="#4a4a4a" stroke-width="1.3"/>
<line x1="475.90" y1="370.50" x2="485.10" y2="370.50" stroke="#222" stroke-width="1.3"/>
<line x1="499.50" y1="411.80" x2="499.50" y2="416.80" stroke="#4a4a4a" stroke-width="1.3"/>
<line x1="494.90" y1="411.80" x2="504.10" y2="411.80" stroke="#222" stroke-width="1.3"/>
<line x1="499.50" y1="416.80" x2="499.50" y2="421.80" stroke="#4a4a4a" stroke-width="1.3"/>
<line x1="494.90" y1="421.80" x2="504.10" y2="421.80" stroke="#222" stroke-width="1.3"/>
<line x1="499.50" y1="355.80" x2="499.50" y2="364.50" stroke="#4a4a4a" stroke-width="1.3"/>
<line x1="494.90" y1="355.80" x2="504.10" y2="355.80" stroke="#222" stroke-width="1.3"/>
<line x1="499.50" y1="364.50" x2="499.50" y2="373.30" stroke="#4a4a4a" stroke-width="1.3"/>
<line x1="494.90" y1="373.30" x2="504.10" y2="373.30" stroke="#222" stroke-width="1.3"/>
<line x1="518.30" y1="413.30" x2="518.30" y2="418.80" stroke="#4a4a4a" stroke-width="1.3"/>
<line x1="513.70" y1="413.30" x2="522.90" y2="413.30" stroke="#222" stroke-width="1.3"/>
<line x1="518.30" y1="418.80" x2="518.30" y2="424.30" stroke="#4a4a4a" stroke-width="1.3"/>
<line x1="513.70" y1="424.30" x2="522.90" y2="424.30" stroke="#222" stroke-width="1.3"/>
<line x1="518.30" y1="344.50" x2="518.30" y2="357.50" stroke="#4a4a4a" stroke-width="1.3"/>
<line x1="513.70" y1="344.50" x2="522.90" y2="344.50" stroke="#222" stroke-width="1.3"/>
<line x1="518.30" y1="357.50" x2="518.30" y2="371.30" stroke="#4a4a4a" stroke-width="1.3"/>
<line x1="513.70" y1="371.30" x2="522.90" y2="371.30" stroke="#222" stroke-width="1.3"/>
<line x1="537.50" y1="416.50" x2="537.50" y2="420.50" stroke="#4a4a4a" stroke-width="1.3"/>
<line x1="532.90" y1="416.50" x2="542.10" y2="416.50" stroke="#222" stroke-width="1.3"/>
<line x1="537.50" y1="420.50" x2="537.50" y2="424.50" stroke="#4a4a4a" stroke-width="1.3"/>
<line x1="532.90" y1="424.50" x2="542.10" y2="424.50" stroke="#222" stroke-width="1.3"/>
<line x1="537.50" y1="341.80" x2="537.50" y2="355.50" stroke="#4a4a4a" stroke-width="1.3"/>
<line x1="532.90" y1="341.80" x2="542.10" y2="341.80" stroke="#222" stroke-width="1.3"/>
<line x1="537.50" y1="355.50" x2="537.50" y2="369.50" stroke="#4a4a4a" stroke-width="1.3"/>
<line x1="532.90" y1="369.50" x2="542.10" y2="369.50" stroke="#222" stroke-width="1.3"/>
<circle cx="106.20" cy="415.60" r="4.25" fill="#fff" stroke="#111" stroke-width="1.2"/>
<circle cx="121.40" cy="412.40" r="4.25" fill="#999999" stroke="#111" stroke-width="1.2"/>
<circle cx="121.40" cy="421.30" r="4.25" fill="#fff" stroke="#111" stroke-width="1.2"/>
<circle cx="140.10" cy="417.00" r="4.25" fill="#999999" stroke="#111" stroke-width="1.2"/>
<circle cx="140.10" cy="413.90" r="4.25" fill="#fff" stroke="#111" stroke-width="1.2"/>
<circle cx="159.20" cy="419.20" r="4.25" fill="#999999" stroke="#111" stroke-width="1.2"/>
<circle cx="159.20" cy="416.40" r="4.25" fill="#fff" stroke="#111" stroke-width="1.2"/>
<circle cx="178.20" cy="420.70" r="4.25" fill="#999999" stroke="#111" stroke-width="1.2"/>
<circle cx="178.20" cy="415.00" r="4.25" fill="#fff" stroke="#111" stroke-width="1.2"/>
<circle cx="196.90" cy="426.20" r="4.25" fill="#999999" stroke="#111" stroke-width="1.2"/>
<circle cx="196.90" cy="413.30" r="4.25" fill="#fff" stroke="#111" stroke-width="1.2"/>
<circle cx="215.70" cy="418.00" r="4.25" fill="#999999" stroke="#111" stroke-width="1.2"/>
<circle cx="215.70" cy="417.70" r="4.25" fill="#fff" stroke="#111" stroke-width="1.2"/>
<circle cx="234.50" cy="420.50" r="4.25" fill="#999999" stroke="#111" stroke-width="1.2"/>
<circle cx="234.50" cy="413.30" r="4.25" fill="#fff" stroke="#111" stroke-width="1.2"/>
<circle cx="253.80" cy="425.00" r="4.25" fill="#999999" stroke="#111" stroke-width="1.2"/>
<circle cx="253.80" cy="418.80" r="4.25" fill="#fff" stroke="#111" stroke-width="1.2"/>
<circle cx="272.50" cy="422.50" r="4.25" fill="#999999" stroke="#111" stroke-width="1.2"/>
<circle cx="272.50" cy="415.50" r="4.25" fill="#fff" stroke="#111" stroke-width="1.2"/>
<circle cx="291.30" cy="423.80" r="4.25" fill="#999999" stroke="#111" stroke-width="1.2"/>
<circle cx="291.30" cy="415.50" r="4.25" fill="#fff" stroke="#111" stroke-width="1.2"/>
<circle cx="310.00" cy="425.50" r="4.25" fill="#999999" stroke="#111" stroke-width="1.2"/>
<circle cx="310.00" cy="418.30" r="4.25" fill="#fff" stroke="#111" stroke-width="1.2"/>
<circle cx="314.50" cy="378.00" r="4.25" fill="#999999" stroke="#111" stroke-width="1.2"/>
<circle cx="314.50" cy="374.50" r="4.25" fill="#fff" stroke="#111" stroke-width="1.2"/>
<circle cx="329.50" cy="387.00" r="4.25" fill="#999999" stroke="#111" stroke-width="1.2"/>
<circle cx="329.50" cy="369.30" r="4.25" fill="#fff" stroke="#111" stroke-width="1.2"/>
<circle cx="348.80" cy="393.30" r="4.25" fill="#999999" stroke="#111" stroke-width="1.2"/>
<circle cx="348.80" cy="361.30" r="4.25" fill="#fff" stroke="#111" stroke-width="1.2"/>
<circle cx="367.00" cy="409.50" r="4.25" fill="#999999" stroke="#111" stroke-width="1.2"/>
<circle cx="367.00" cy="369.50" r="4.25" fill="#fff" stroke="#111" stroke-width="1.2"/>
<circle cx="386.30" cy="410.00" r="4.25" fill="#999999" stroke="#111" stroke-width="1.2"/>
<circle cx="386.30" cy="354.50" r="4.25" fill="#fff" stroke="#111" stroke-width="1.2"/>
<circle cx="405.00" cy="408.30" r="4.25" fill="#999999" stroke="#111" stroke-width="1.2"/>
<circle cx="405.00" cy="356.50" r="4.25" fill="#fff" stroke="#111" stroke-width="1.2"/>
<circle cx="423.80" cy="412.50" r="4.25" fill="#999999" stroke="#111" stroke-width="1.2"/>
<circle cx="423.80" cy="354.30" r="4.25" fill="#fff" stroke="#111" stroke-width="1.2"/>
<circle cx="442.50" cy="411.30" r="4.25" fill="#999999" stroke="#111" stroke-width="1.2"/>
<circle cx="442.50" cy="358.80" r="4.25" fill="#fff" stroke="#111" stroke-width="1.2"/>
<circle cx="461.80" cy="412.00" r="4.25" fill="#999999" stroke="#111" stroke-width="1.2"/>
<circle cx="461.80" cy="362.00" r="4.25" fill="#fff" stroke="#111" stroke-width="1.2"/>
<circle cx="480.50" cy="413.00" r="4.25" fill="#999999" stroke="#111" stroke-width="1.2"/>
<circle cx="480.50" cy="358.00" r="4.25" fill="#fff" stroke="#111" stroke-width="1.2"/>
<circle cx="499.50" cy="416.80" r="4.25" fill="#999999" stroke="#111" stroke-width="1.2"/>
<circle cx="499.50" cy="364.50" r="4.25" fill="#fff" stroke="#111" stroke-width="1.2"/>
<circle cx="518.30" cy="418.80" r="4.25" fill="#999999" stroke="#111" stroke-width="1.2"/>
<circle cx="518.30" cy="357.50" r="4.25" fill="#fff" stroke="#111" stroke-width="1.2"/>
<circle cx="537.50" cy="420.50" r="4.25" fill="#999999" stroke="#111" stroke-width="1.2"/>
<circle cx="537.50" cy="355.50" r="4.25" fill="#fff" stroke="#111" stroke-width="1.2"/>
<circle cx="576.50" cy="343.20" r="3.70" fill="#fff" stroke="#111" stroke-width="1.2"/>
<circle cx="579.20" cy="412.20" r="3.80" fill="#a0a0a0" stroke="#222" stroke-width="1.1"/>
<line x1="552.80" y1="353.50" x2="575.10" y2="353.50" stroke="#222" stroke-width="1.0"/>
<path d="M565.1,350.4 L576.1,353.5 L565.1,356.6" fill="none" stroke="#222" stroke-width="1"/>
<line x1="555.50" y1="422.50" x2="577.80" y2="422.50" stroke="#222" stroke-width="1.0"/>
<path d="M567.8,419.4 L578.8,422.5 L567.8,425.6" fill="none" stroke="#222" stroke-width="1"/>
<line x1="588.10" y1="308.60" x2="588.10" y2="350.80" stroke="#2b2b2b" stroke-width="3.0"/>
<line x1="589.20" y1="342.00" x2="589.20" y2="431.50" stroke="#a9674d" stroke-width="2.6"/>
<path d="M588.1,356.5 L588.1,379.0" fill="none" stroke="#2b2b2b" stroke-width="2.7" stroke-linejoin="round" stroke-linecap="round"/>
<path d="M588.1,385.2 L588.1,428.6" fill="none" stroke="#2b2b2b" stroke-width="2.7" stroke-linejoin="round" stroke-linecap="round"/>
<path d="M577.4,349.2 L587.8,349.2" fill="none" stroke="#a9674d" stroke-width="2.6" stroke-linejoin="round" stroke-linecap="round"/>
<line x1="578" y1="349.5" x2="587.5" y2="349.5" stroke="#2b2b2b" stroke-width="1.6" stroke-dasharray="4,2"/>
<path d="M590.3,343.2 L592.2,340.9 L594.2,344.5 L597.3,346.4 L600.5,350.2 L603.0,355.9 L605.6,363.6 L607.5,373.7 L609.4,386.4 L610.9,391.5 L612.6,387.7 L613.9,376.3 L616.4,367.4 L620.2,359.7 L624.7,354.7 L629.7,350.8 L637.4,348.0 L645.0,347.3 L652.0,347.3" fill="none" stroke="#a9674d" stroke-width="2.2" stroke-linejoin="round" stroke-linecap="round"/>
<path d="M590.3,347.0 L595.4,348.9 L599.2,350.2" fill="none" stroke="#2b2b2b" stroke-width="2.6" stroke-linejoin="round" stroke-linecap="round"/>
<path d="M605.0,359.1 L607.5,367.4 L610.0,377.5" fill="none" stroke="#2b2b2b" stroke-width="2.6" stroke-linejoin="round" stroke-linecap="round"/>
<path d="M613.9,377.5 L617.0,368.6 L620.8,360.4" fill="none" stroke="#2b2b2b" stroke-width="2.6" stroke-linejoin="round" stroke-linecap="round"/>
<path d="M627.8,352.1 L633.6,348.9 L641.2,347.7 L647.5,347.7" fill="none" stroke="#2b2b2b" stroke-width="2.6" stroke-linejoin="round" stroke-linecap="round"/>
<path d="M578.6,421.0 L587.8,421.0" fill="none" stroke="#a9674d" stroke-width="2.6" stroke-linejoin="round" stroke-linecap="round"/>
<line x1="582" y1="421.6" x2="587.5" y2="421.6" stroke="#2b2b2b" stroke-width="1.5" stroke-dasharray="3,2"/>
<path d="M589.7,421.7 L592.2,423.6 L595.4,422.0 L597.3,426.1 L600.5,433.1 L603.0,443.3 L605.0,449.7 L606.9,447.8 L608.8,454.7 L610.7,466.2 L612.6,462.4 L615.1,450.9 L618.3,440.8 L622.1,433.1 L625.9,431.2 L628.5,431.9 L633.6,429.3 L641.2,426.1 L652.6,423.0" fill="none" stroke="#a9674d" stroke-width="2.2" stroke-linejoin="round" stroke-linecap="round"/>
<path d="M589.7,423.6 L592.9,424.2 L595.4,423.6 L598.0,429.3" fill="none" stroke="#2b2b2b" stroke-width="2.6" stroke-linejoin="round" stroke-linecap="round"/>
<path d="M601.8,438.2 L603.7,448.4 L605.6,454.7 L606.9,455.4" fill="none" stroke="#2b2b2b" stroke-width="2.6" stroke-linejoin="round" stroke-linecap="round"/>
<path d="M610.7,463.6 L613.2,456.0 L615.8,448.4 L618.3,443.9" fill="none" stroke="#2b2b2b" stroke-width="2.6" stroke-linejoin="round" stroke-linecap="round"/>
<path d="M622.8,435.7 L625.9,436.3 L631.0,433.8 L638.6,429.3" fill="none" stroke="#2b2b2b" stroke-width="2.6" stroke-linejoin="round" stroke-linecap="round"/>
<path d="M646.3,426.8 L652.0,424.9" fill="none" stroke="#2b2b2b" stroke-width="2.6" stroke-linejoin="round" stroke-linecap="round"/>
<text x="596.63" y="333.55" font-size="17.47" font-weight="bold" fill="#111" textLength="106.77" lengthAdjust="spacingAndGlyphs">IL1-RA alone</text>
<text x="596.17" y="415.75" font-size="17.47" font-weight="bold" fill="#111" textLength="109.02" lengthAdjust="spacingAndGlyphs">+ Glyphosate</text>
<path d="M587.5,524.6 L587.5,546.9 L605.3,546.9" fill="none" stroke="#111" stroke-width="2.2" stroke-linejoin="round" stroke-linecap="round"/>
<text x="18.74" y="610.30" font-size="19.3" font-weight="bold" fill="#111" textLength="13.37" lengthAdjust="spacingAndGlyphs">C</text>
<text x="71.04" y="609.05" font-size="16.85" font-weight="bold" fill="#111" textLength="114.75" lengthAdjust="spacingAndGlyphs">LTP summary</text>
<text x="65.45" y="659.65" font-size="17.47" font-weight="bold" fill="#111" textLength="152.17" lengthAdjust="spacingAndGlyphs">Glyphosate alone</text>
<text x="85.23" y="692.85" font-size="17.47" font-weight="bold" fill="#111" textLength="114.97" lengthAdjust="spacingAndGlyphs">+ MCC950 (5)</text>
<text x="88.75" y="721.35" font-size="17.47" font-weight="bold" fill="#111" textLength="100.15" lengthAdjust="spacingAndGlyphs">+ IL1-RA (5)</text>
<rect x="246.10" y="634.10" width="352.70" height="105.10" fill="#fff" stroke="#111" stroke-width="1.3"/>
<line x1="334.30" y1="634.10" x2="334.30" y2="739.20" stroke="#444" stroke-width="0.8"/>
<line x1="246.10" y1="739.20" x2="246.10" y2="743.60" stroke="#111" stroke-width="1.2"/>
<line x1="290.20" y1="739.20" x2="290.20" y2="742.40" stroke="#111" stroke-width="1.2"/>
<line x1="334.30" y1="739.20" x2="334.30" y2="743.60" stroke="#111" stroke-width="1.2"/>
<line x1="378.40" y1="739.20" x2="378.40" y2="742.40" stroke="#111" stroke-width="1.2"/>
<line x1="422.50" y1="739.20" x2="422.50" y2="743.60" stroke="#111" stroke-width="1.2"/>
<line x1="466.60" y1="739.20" x2="466.60" y2="742.40" stroke="#111" stroke-width="1.2"/>
<line x1="510.70" y1="739.20" x2="510.70" y2="743.60" stroke="#111" stroke-width="1.2"/>
<line x1="554.80" y1="739.20" x2="554.80" y2="742.40" stroke="#111" stroke-width="1.2"/>
<line x1="598.90" y1="739.20" x2="598.90" y2="743.60" stroke="#111" stroke-width="1.2"/>
<text x="236.56" y="767.90" font-size="17.4" font-weight="bold" fill="#111" textLength="19.24" lengthAdjust="spacingAndGlyphs">80</text>
<text x="319.68" y="767.90" font-size="17.4" font-weight="bold" fill="#111" textLength="28.86" lengthAdjust="spacingAndGlyphs">100</text>
<text x="407.88" y="767.90" font-size="17.4" font-weight="bold" fill="#111" textLength="28.86" lengthAdjust="spacingAndGlyphs">120</text>
<text x="496.08" y="767.90" font-size="17.4" font-weight="bold" fill="#111" textLength="28.86" lengthAdjust="spacingAndGlyphs">140</text>
<text x="584.28" y="767.90" font-size="17.4" font-weight="bold" fill="#111" textLength="28.86" lengthAdjust="spacingAndGlyphs">160</text>
<text x="355.12" y="791.35" font-size="17.47" font-weight="bold" fill="#111" textLength="132.66" lengthAdjust="spacingAndGlyphs">EPSP Slope (%)</text>
<rect x="246.10" y="641.30" width="91.73" height="21.40" fill="#111" stroke="#111" stroke-width="1.2"/>
<line x1="337.83" y1="652.00" x2="350.30" y2="652.00" stroke="#222" stroke-width="1.3"/>
<line x1="350.30" y1="648.00" x2="350.30" y2="656.00" stroke="#222" stroke-width="1.3"/>
<rect x="246.10" y="676.20" width="50.27" height="21.30" fill="#d2d2d2" stroke="#111" stroke-width="1.2"/>
<line x1="296.37" y1="686.90" x2="309.50" y2="686.90" stroke="#222" stroke-width="1.3"/>
<line x1="309.50" y1="682.90" x2="309.50" y2="690.90" stroke="#222" stroke-width="1.3"/>
<rect x="246.10" y="711.70" width="90.45" height="20.60" fill="#d2d2d2" stroke="#111" stroke-width="1.2"/>
<line x1="336.55" y1="722.10" x2="351.30" y2="722.10" stroke="#222" stroke-width="1.3"/>
<line x1="351.30" y1="718.10" x2="351.30" y2="726.10" stroke="#222" stroke-width="1.3"/>
</svg>
</body></html>
